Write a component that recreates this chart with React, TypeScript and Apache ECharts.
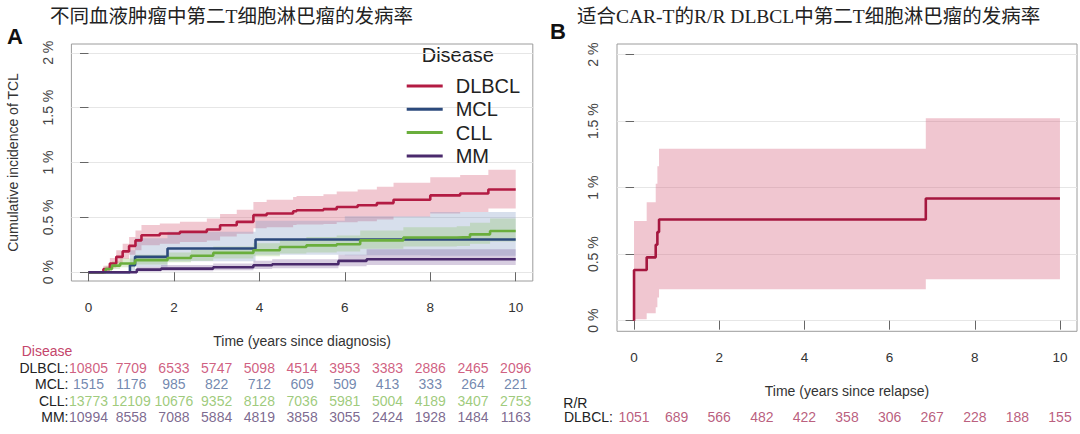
import React, { useEffect, useRef } from 'react';
import * as echarts from 'echarts';

// ---------- shared ticks ----------
const years = [0, 1, 2, 3, 4, 5, 6, 7, 8, 9, 10];
const xTicks = [0, 2, 4, 6, 8, 10];
const yTicks = [0, 0.5, 1, 1.5, 2];

// ---------- Panel A: cumulative incidence (%) ----------
const diseases = ['DLBCL', 'MCL', 'CLL', 'MM'];

const dlbclT = [0, 0.27, 0.35, 0.5, 0.65, 0.8, 0.95, 1.1, 1.24, 1.67, 2.14, 2.77, 3.08, 3.47, 3.86, 4.17, 4.79, 4.87, 5.5, 5.81, 6.3, 6.75, 7.14, 8.0, 8.7, 9.36, 10];
const dlbclEst = [0, 0, 0.03, 0.08, 0.14, 0.19, 0.24, 0.29, 0.337, 0.353, 0.368, 0.389, 0.428, 0.459, 0.52, 0.535, 0.556, 0.565, 0.575, 0.595, 0.61, 0.63, 0.66, 0.7, 0.717, 0.754, 0.754];
const dlbclLo = [0, 0, 0.01, 0.04, 0.08, 0.12, 0.16, 0.2, 0.245, 0.26, 0.275, 0.29, 0.325, 0.35, 0.4, 0.41, 0.43, 0.435, 0.44, 0.455, 0.465, 0.48, 0.505, 0.535, 0.55, 0.58, 0.58];
const dlbclHi = [0, 0, 0.06, 0.13, 0.2, 0.26, 0.32, 0.38, 0.43, 0.445, 0.46, 0.49, 0.53, 0.57, 0.64, 0.66, 0.685, 0.695, 0.71, 0.735, 0.755, 0.78, 0.815, 0.865, 0.885, 0.935, 0.935];

const mclT = [0, 0.97, 1.09, 1.85, 3.91, 6, 8, 10];
const mclEst = [0, 0.064, 0.14, 0.216, 0.298, 0.298, 0.298, 0.298];
const mclLo = [0, 0.01, 0.05, 0.1, 0.16, 0.155, 0.15, 0.15];
const mclHi = [0, 0.2, 0.31, 0.37, 0.47, 0.51, 0.55, 0.55];

const cllT = [0, 0.27, 0.4, 0.55, 0.74, 1.09, 1.85, 2.4, 2.92, 3.86, 4.48, 5.1, 5.81, 6.36, 7.37, 8.62, 8.93, 9.4, 10];
const cllEst = [0, 0, 0.03, 0.06, 0.079, 0.11, 0.13, 0.15, 0.176, 0.2, 0.23, 0.245, 0.255, 0.29, 0.316, 0.32, 0.345, 0.376, 0.376];
const cllLo = [0, 0, 0.01, 0.03, 0.045, 0.07, 0.09, 0.105, 0.125, 0.145, 0.17, 0.18, 0.19, 0.215, 0.235, 0.24, 0.26, 0.28, 0.28];
const cllHi = [0, 0, 0.06, 0.1, 0.125, 0.16, 0.18, 0.205, 0.235, 0.265, 0.3, 0.32, 0.335, 0.38, 0.41, 0.42, 0.45, 0.49, 0.49];

const mmT = [0, 0.97, 1.13, 1.7, 2.92, 3.86, 4.3, 5.85, 6.51, 10];
const mmEst = [0, 0, 0.024, 0.033, 0.045, 0.064, 0.073, 0.103, 0.118, 0.118];
const mmLo = [0, 0, 0.005, 0.01, 0.018, 0.03, 0.036, 0.055, 0.065, 0.065];
const mmHi = [0, 0, 0.05, 0.065, 0.08, 0.105, 0.118, 0.16, 0.21, 0.21];

// numbers at risk (Panel A)
const riskDLBCL = [10805, 7709, 6533, 5747, 5098, 4514, 3953, 3383, 2886, 2465, 2096];
const riskMCL = [1515, 1176, 985, 822, 712, 609, 509, 413, 333, 264, 221];
const riskCLL = [13773, 12109, 10676, 9352, 8128, 7036, 5981, 5004, 4189, 3407, 2753];
const riskMM = [10994, 8558, 7088, 5884, 4819, 3858, 3055, 2424, 1928, 1484, 1163];

// ---------- Panel B: R/R DLBCL ----------
const rrT = [0, 0, 0.297, 0.509, 0.548, 0.587, 6.85, 10];
const rrEst = [0, 0.381, 0.476, 0.571, 0.666, 0.761, 0.918, 0.918];
const rrBandT = [0, 0.297, 0.509, 0.548, 0.587, 6.85, 10];
const rrLo = [0.01, 0.055, 0.1, 0.175, 0.236, 0.311, 0.311];
const rrHi = [0.75, 0.89, 1.03, 1.16, 1.293, 1.522, 1.522];
const riskRR = [1051, 689, 566, 482, 422, 358, 306, 267, 228, 188, 155];

// ---------- styles ----------
const SANS = '"Liberation Sans", Arial, Helvetica, sans-serif';
const CJK = '"Liberation Serif", "Noto Sans CJK SC", serif';
const lineColors: Record<string, string> = { DLBCL: '#b31b43', MCL: '#2c4a7c', CLL: '#6aae3c', MM: '#4a2a6c', RR: '#a5173f' };
const bandColors: Record<string, string> = {
  DLBCL: 'rgba(214,96,124,0.35)',
  MCL: 'rgba(110,140,185,0.28)',
  CLL: 'rgba(140,195,100,0.30)',
  MM: 'rgba(110,75,145,0.28)',
  RR: 'rgba(214,96,124,0.36)',
};
const riskColors: Record<string, string> = { DLBCL: '#c4365f', MCL: '#4f6a9a', CLL: '#86bd5a', MM: '#5b4373', RR: '#a8345c' };

function bandPoints(api: any, t: number[], lo: number[], hi: number[]) {
  const pts: number[][] = [];
  for (let i = 0; i < t.length - 1; i++) {
    pts.push(api.coord([t[i], hi[i]]));
    pts.push(api.coord([t[i + 1], hi[i]]));
  }
  for (let i = t.length - 2; i >= 0; i--) {
    pts.push(api.coord([t[i + 1], lo[i]]));
    pts.push(api.coord([t[i], lo[i]]));
  }
  return pts;
}

function bandSeries(name: string, axis: number, t: number[], lo: number[], hi: number[], fill: string) {
  return {
    type: 'custom',
    name: name + ' CI',
    coordinateSystem: 'cartesian2d',
    xAxisIndex: axis,
    yAxisIndex: axis,
    silent: true,
    z: 1,
    data: [[0, 0]],
    renderItem: (_p: any, api: any) => ({
      type: 'polygon',
      shape: { points: bandPoints(api, t, lo, hi) },
      style: { fill, stroke: 'none' },
    }),
  };
}

function lineSeries(name: string, axis: number, t: number[], est: number[], color: string) {
  return {
    type: 'line',
    name,
    xAxisIndex: axis,
    yAxisIndex: axis,
    step: 'end',
    symbol: 'none',
    showSymbol: false,
    silent: true,
    z: 3,
    data: t.map((x, i) => [x, est[i]]),
    lineStyle: { color, width: 2.6 },
    itemStyle: { color },
  };
}

function riskSeries(row: string, axis: number, values: number[], color: string) {
  return {
    type: 'scatter',
    name: row + ' at risk',
    xAxisIndex: axis,
    yAxisIndex: axis,
    silent: true,
    symbolSize: 1,
    itemStyle: { color: 'rgba(0,0,0,0)' },
    data: years.map((y, i) => [y, row, values[i]]),
    label: {
      show: true,
      position: 'inside',
      formatter: (p: any) => String(p.value[2]),
      color,
      fontSize: 14,
      fontFamily: SANS,
    },
  };
}

function mainX(gridIndex: number, name: string) {
  return {
    gridIndex,
    type: 'value',
    min: -0.4,
    max: 10.4,
    axisLine: { show: false },
    axisTick: { show: true, customValues: xTicks, length: 9, lineStyle: { color: '#666' } },
    axisLabel: { customValues: xTicks, margin: 19, fontSize: 13.5, color: '#333', fontFamily: SANS },
    splitLine: { show: false },
    name,
    nameLocation: 'middle',
    nameGap: 52.7,
    nameTextStyle: { fontSize: 14, color: '#333', fontFamily: SANS },
  };
}

function mainY(gridIndex: number, margin: number, name?: string) {
  return {
    gridIndex,
    type: 'value',
    min: -0.08,
    max: 2.08,
    axisLine: { show: false },
    axisTick: { show: true, customValues: yTicks, length: 8.5, lineStyle: { color: '#666' } },
    axisLabel: {
      customValues: yTicks,
      rotate: 90,
      margin,
      fontSize: 14,
      color: '#444',
      fontFamily: SANS,
      formatter: (v: number) => `${v} %`,
    },
    splitLine: { show: true, lineStyle: { color: '#e6e6e6', width: 1 } },
    name: name || '',
    nameLocation: 'middle',
    nameGap: 51,
    nameRotate: 90,
    nameTextStyle: { fontSize: 14, color: '#333', fontFamily: SANS },
  };
}

export default function App() {
  const ref = useRef<HTMLDivElement>(null);
  useEffect(() => {
    if (!ref.current) return;
    const chart = echarts.init(ref.current, undefined, { renderer: 'svg' });
    const option: any = {
      animation: false,
      backgroundColor: '#ffffff',
      grid: [
        { left: 71.4, top: 44, width: 461.4, height: 237, show: true, borderColor: '#9c9c9c', borderWidth: 1, backgroundColor: 'transparent' },
        { left: 617, top: 44, width: 460, height: 287.3, show: true, borderColor: '#9c9c9c', borderWidth: 1, backgroundColor: 'transparent' },
        { left: 88.5, top: 359.4, width: 427.2, height: 66 },
        { left: 634, top: 409.3, width: 426, height: 16 },
      ],
      xAxis: [
        mainX(0, 'Time (years since diagnosis)'),
        mainX(1, 'Time (years since relapse)'),
        { gridIndex: 2, type: 'value', min: 0, max: 10, show: false },
        { gridIndex: 3, type: 'value', min: 0, max: 10, show: false },
      ],
      yAxis: [
        mainY(0, 16, 'Cumulative incidence of TCL'),
        mainY(1, 17),
        {
          gridIndex: 2,
          type: 'category',
          data: diseases,
          inverse: true,
          axisLine: { show: false },
          axisTick: { show: false },
          splitLine: { show: false },
          axisLabel: { interval: 0, hideOverlap: false, margin: 20, fontSize: 14, color: '#222', fontFamily: SANS, formatter: (v: string) => v + ':' },
        },
        {
          gridIndex: 3,
          type: 'category',
          data: ['DLBCL'],
          axisLine: { show: false },
          axisTick: { show: false },
          splitLine: { show: false },
          axisLabel: { interval: 0, margin: 21, fontSize: 14, color: '#222', fontFamily: SANS, formatter: (v: string) => v + ':' },
        },
      ],
      legend: {
        data: diseases,
        orient: 'vertical',
        left: 401.7,
        top: 71,
        icon: 'rect',
        itemWidth: 36,
        itemHeight: 3,
        itemGap: 3.3,
        selectedMode: false,
        textStyle: { fontSize: 20, color: '#222', fontFamily: SANS, lineHeight: 20, padding: [0, 0, 0, 8] },
      },
      graphic: [
        { type: 'text', x: 50, y: 16, style: { text: '不同血液肿瘤中第二T细胞淋巴瘤的发病率', fill: '#222', font: `19.5px ${CJK}`, verticalAlign: 'middle', align: 'left' } },
        { type: 'text', x: 577, y: 16, style: { text: '适合CAR-T的R/R DLBCL中第二T细胞淋巴瘤的发病率', fill: '#222', font: `19.5px ${CJK}`, verticalAlign: 'middle', align: 'left' } },
        { type: 'text', x: 7, y: 36, style: { text: 'A', fill: '#111', font: `bold 22px ${SANS}`, verticalAlign: 'middle', align: 'left' } },
        { type: 'text', x: 550, y: 31, style: { text: 'B', fill: '#111', font: `bold 22px ${SANS}`, verticalAlign: 'middle', align: 'left' } },
        { type: 'text', x: 421.7, y: 55, style: { text: 'Disease', fill: '#222', font: `20px ${SANS}`, verticalAlign: 'middle', align: 'left' } },
        { type: 'text', x: 21.7, y: 350.7, style: { text: 'Disease', fill: '#c4456b', font: `14px ${SANS}`, verticalAlign: 'middle', align: 'left' } },
        { type: 'text', x: 563.3, y: 402.7, style: { text: 'R/R', fill: '#222', font: `14px ${SANS}`, verticalAlign: 'middle', align: 'left' } },
      ],
      series: [
        bandSeries('DLBCL', 0, dlbclT, dlbclLo, dlbclHi, bandColors.DLBCL),
        bandSeries('MCL', 0, mclT, mclLo, mclHi, bandColors.MCL),
        bandSeries('CLL', 0, cllT, cllLo, cllHi, bandColors.CLL),
        bandSeries('MM', 0, mmT, mmLo, mmHi, bandColors.MM),
        lineSeries('DLBCL', 0, dlbclT, dlbclEst, lineColors.DLBCL),
        lineSeries('MCL', 0, mclT, mclEst, lineColors.MCL),
        lineSeries('CLL', 0, cllT, cllEst, lineColors.CLL),
        lineSeries('MM', 0, mmT, mmEst, lineColors.MM),
        bandSeries('R/R DLBCL', 1, rrBandT, rrLo, rrHi, bandColors.RR),
        lineSeries('R/R DLBCL', 1, rrT, rrEst, lineColors.RR),
        riskSeries('DLBCL', 2, riskDLBCL, riskColors.DLBCL),
        riskSeries('MCL', 2, riskMCL, riskColors.MCL),
        riskSeries('CLL', 2, riskCLL, riskColors.CLL),
        riskSeries('MM', 2, riskMM, riskColors.MM),
        riskSeries('DLBCL', 3, riskRR, riskColors.RR),
      ],
    };
    chart.setOption(option);
    return () => chart.dispose();
  }, []);
  return (
    <div
      ref={ref}
      style={{ position: 'fixed', left: 0, top: 0, width: 1080, height: 434, background: '#fff' }}
    />
  );
}
